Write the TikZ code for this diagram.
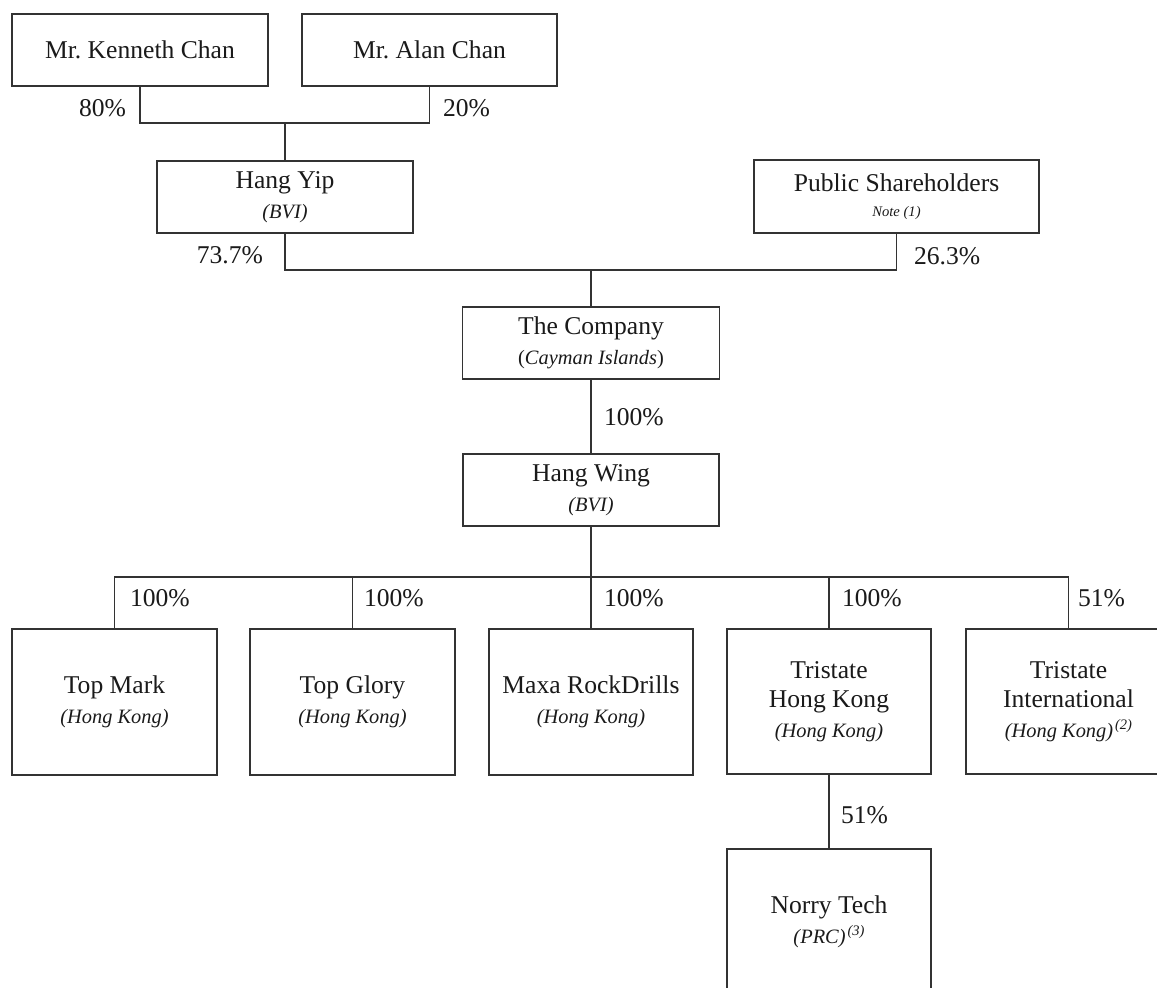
\documentclass[tikz,border=0pt]{standalone}
\usepackage{fontspec}
\setmainfont{Liberation Serif}
\newcommand\fmain{\fontsize{25.6}{29.5}\selectfont}
\newcommand\fsub{\fontsize{20.4}{29.5}\selectfont\itshape}
\newcommand\fsubup{\fontsize{20.4}{29.5}\selectfont}
\newcommand\fnote{\fontsize{14.6}{16}\selectfont\itshape}
\newcommand\supnote[1]{\kern2pt\raisebox{8pt}{\fontsize{14.5}{15}\selectfont\itshape(#1)}}
\definecolor{linec}{HTML}{333333}
\definecolor{textc}{HTML}{1A1A1A}
\begin{document}
\begin{tikzpicture}[x=1pt,y=-1pt,
  box/.style={draw=linec, line width=1.2pt, inner sep=0pt, outer sep=0pt, align=center, font=\fmain, text=textc},
  conn/.style={draw=linec, line width=1.2pt},
  pct/.style={inner sep=0pt, outer sep=0pt, font=\fmain, text=textc}]
\useasboundingbox (0,0) rectangle (1157,988);
\clip (0,0) rectangle (1157,988);
\fill[white] (0,0) rectangle (1157,988);

% boxes
\node[box, minimum width=256pt, minimum height=72pt] (ken) at (140,50) {Mr.\ Kenneth Chan};
\node[box, minimum width=255pt, minimum height=72pt] (alan) at (429.5,50) {Mr.\ Alan Chan};
\node[box, minimum width=256pt, minimum height=72pt] (hangyip) at (285,197) {Hang Yip\\{\fsub (BVI)}};
\node[box, minimum width=285pt, minimum height=73pt] (public) at (896.5,196.5) {Public Shareholders\\[-4pt]{\fnote Note (1)}};
\node[box, minimum width=257pt, minimum height=72pt] (company) at (591,343) {The Company\\{\fsubup (\textit{Cayman Islands})}};
\node[box, minimum width=256pt, minimum height=72pt] (hangwing) at (591,490) {Hang Wing\\{\fsub (BVI)}};
\node[box, minimum width=205pt, minimum height=146pt] (topmark) at (114.5,702) {Top Mark\\{\fsub (Hong Kong)}};
\node[box, minimum width=205pt, minimum height=146pt] (topglory) at (352.5,702) {Top Glory\\{\fsub (Hong Kong)}};
\node[box, minimum width=204pt, minimum height=146pt] (maxa) at (591,702) {Maxa RockDrills\\{\fsub (Hong Kong)}};
\node[box, minimum width=204pt, minimum height=145pt] (trihk) at (829,701.5) {Tristate\\Hong Kong\\{\fsub (Hong Kong)}};
\node[box, minimum width=205pt, minimum height=145pt] (triint) at (1068.5,701.5) {Tristate\\International\\{\fsub (Hong Kong)\supnote{2}}};
\node[box, minimum width=204pt, minimum height=146pt] (norry) at (829,922) {Norry Tech\\{\fsub (PRC)\supnote{3}}};

% junction points
\coordinate (j1) at (285,123);
\coordinate (j2) at (591,270);
\coordinate (bar) at (591,577);

% connectors
\draw[conn] (ken.south) -- (ken.south |- j1) -- (alan.south |- j1) -- (alan.south);
\draw[conn] (j1) -- (hangyip.north);
\draw[conn] (hangyip.south) -- (hangyip.south |- j2) -- (public.south |- j2) -- (public.south);
\draw[conn] (j2) -- (company.north);
\draw[conn] (company.south) -- (hangwing.north);
\draw[conn] (hangwing.south) -- (bar);
\draw[conn] (topmark.north) -- (topmark.north |- bar) -- (triint.north |- bar) -- (triint.north);
\draw[conn] (topglory.north) -- (topglory.north |- bar);
\draw[conn] (maxa.north) -- (maxa.north |- bar);
\draw[conn] (trihk.north) -- (trihk.north |- bar);
\draw[conn] (trihk.south) -- (norry.north);

% percentages
\node[pct, anchor=base east] (p80) at (126,116.5) {80\%};
\node[pct, anchor=base west] (p20) at (443,116.5) {20\%};
\node[pct, anchor=base east] (p737) at (263,263) {73.7\%};
\node[pct, anchor=base west] (p263) at (914,264) {26.3\%};
\node[pct, anchor=base west] (pco) at (604,425.5) {100\%};
\node[pct, anchor=base west] (ptm) at (130,606.5) {100\%};
\node[pct, anchor=base west] (ptg) at (364,606.5) {100\%};
\node[pct, anchor=base west] (pmx) at (604,606.5) {100\%};
\node[pct, anchor=base west] (pth) at (842,606.5) {100\%};
\node[pct, anchor=base west] (pti) at (1078,606.5) {51\%};
\node[pct, anchor=base west] (pnt) at (841,823.5) {51\%};
\end{tikzpicture}
\end{document}
